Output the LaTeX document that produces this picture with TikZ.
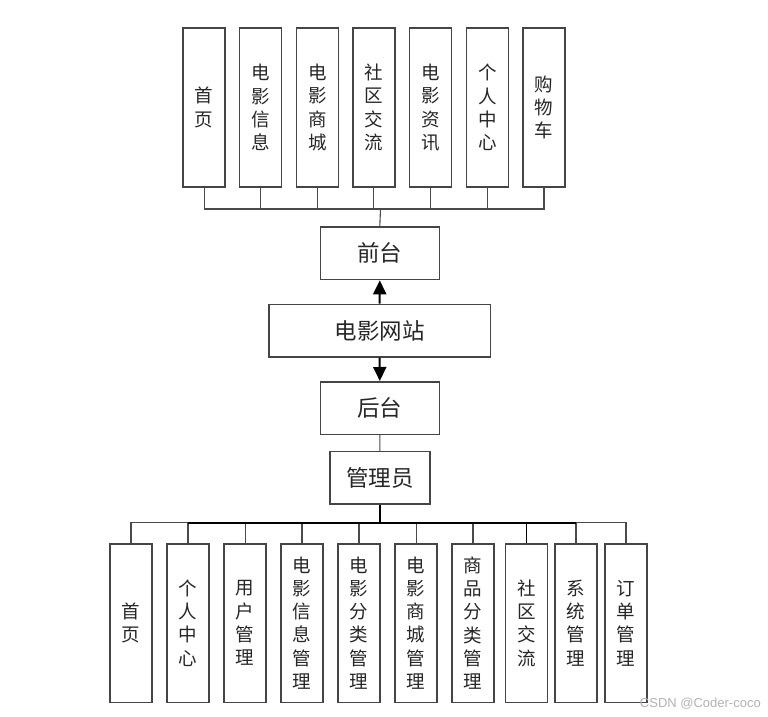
\documentclass[tikz,border=0pt]{standalone}
\usepackage{fontspec}
\setmainfont{Noto Sans CJK SC}
\newfontfamily\wmfont{Liberation Sans}
\usetikzlibrary{arrows.meta}
\definecolor{boxline}{HTML}{454545}
\definecolor{conline}{HTML}{4A4A4A}
\definecolor{txt}{HTML}{262626}
\begin{document}
\begin{tikzpicture}[x=1pt,y=-1pt,
  boxbase/.style={draw=boxline,line width=1.5pt,fill=white,inner sep=0pt,align=center,text=txt},
  vbox/.style={boxbase,minimum width=42pt,minimum height=158.5pt,font=\fontsize{18.5}{23.3}\selectfont},
  hbox/.style={boxbase,minimum height=52.5pt,font=\fontsize{22.5}{25}\selectfont},
  con/.style={draw=conline,line width=1.1pt},
  boldcon/.style={draw=black,line width=1.8pt},
  arr/.style={draw=black,line width=2pt,-{Triangle[length=14pt,width=13pt]}}
]
\useasboundingbox (0,0) rectangle (768,717);

% top boxes
\node[vbox] (t1) at (204.2,107.5) {首\\页};
\node[vbox] (t2) at (260.5,107.5) {电\\影\\信\\息};
\node[vbox] (t3) at (317.3,107.5) {电\\影\\商\\城};
\node[vbox] (t4) at (373.8,107.5) {社\\区\\交\\流};
\node[vbox] (t5) at (430.5,107.5) {电\\影\\资\\讯};
\node[vbox] (t6) at (487.5,107.5) {个\\人\\中\\心};
\node[vbox] (t7) at (544,107.5) {购\\物\\车};

% middle boxes
\node[hbox,minimum width=119pt] (qt) at (379.8,253.3) {前台};
\node[hbox,minimum width=221.3pt] (wz) at (379.7,330.5) {电影网站};
\node[hbox,minimum width=119pt] (ht) at (379.8,408) {后台};
\node[hbox,minimum width=100.3pt] (gly) at (379.9,477.9) {管理员};

% bottom boxes
\node[vbox] (b1) at (131,623) {首\\页};
\node[vbox] (b2) at (188,623) {个\\人\\中\\心};
\node[vbox] (b3) at (245.2,623) {用\\户\\管\\理};
\node[vbox] (b4) at (302,623) {电\\影\\信\\息\\管\\理};
\node[vbox] (b5) at (359,623) {电\\影\\分\\类\\管\\理};
\node[vbox] (b6) at (416.2,623) {电\\影\\商\\城\\管\\理};
\node[vbox] (b7) at (473,623) {商\\品\\分\\类\\管\\理};
\node[vbox] (b8) at (526.5,623) {社\\区\\交\\流};
\node[vbox] (b9) at (576,623) {系\\统\\管\\理};
\node[vbox] (b10) at (626,623) {订\\单\\管\\理};

% top connectors
\coordinate (tb) at (380.5,209);
\draw[con] (t1.south) -- (t1.south |- tb) -- (t7.south |- tb) -- (t7.south);
\foreach \i in {2,...,6} {\draw[con] (t\i.south) -- (t\i.south |- tb);}
\draw[con] (tb) -- (qt.north);

% arrows
\draw[arr] (wz.north) -- (qt.south);
\draw[arr] (wz.south) -- (ht.north);
\draw[con] (ht.south) -- (gly.north);

% bottom connectors
\coordinate (bb) at (379.9,522.7);
\draw[con] (b1.north) -- (b1.north |- bb) -- (b10.north |- bb) -- (b10.north);
\foreach \i in {2,...,7,9} {\draw[con] (b\i.north) -- (b\i.north |- bb);}
\draw[boldcon] (b2.north |- bb) -- (b9.north |- bb);
\draw[draw=black,line width=1.3pt] (b8.north |- bb) -- (b8.north);
\draw[boldcon] (gly.south) -- (bb);

% watermark
\node[anchor=east,inner sep=0pt,text=black!30,font=\wmfont\fontsize{13}{14}\selectfont] (wm) at (761,703.5) {CSDN @Coder-coco};
\end{tikzpicture}
\end{document}
